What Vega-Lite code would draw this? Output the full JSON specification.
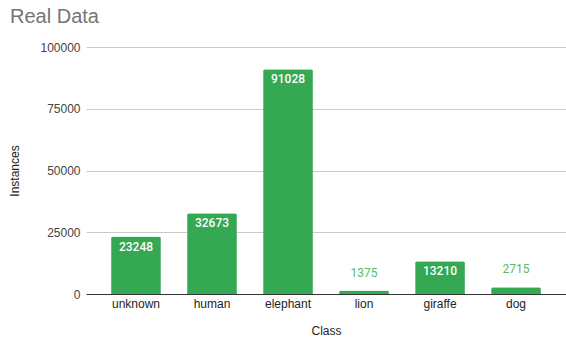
{
  "$schema": "https://vega.github.io/schema/vega-lite/v6.json",
  "autosize": "none",
  "width": 480,
  "height": 247,
  "padding": {"left": 86, "top": 47, "right": 0, "bottom": 48},
  "background": "white",
  "title": {
    "text": "Real Data",
    "anchor": "start",
    "frame": "group",
    "dx": -76,
    "offset": 14,
    "fontSize": 20,
    "font": "Liberation Sans",
    "fontWeight": "normal",
    "color": "#757575"
  },
  "config": {
    "view": {"stroke": null},
    "font": "Roboto"
  },
  "data": {
    "values": [
      {"Class": "unknown", "Instances": 23248},
      {"Class": "human", "Instances": 32673},
      {"Class": "elephant", "Instances": 91028},
      {"Class": "lion", "Instances": 1375},
      {"Class": "giraffe", "Instances": 13210},
      {"Class": "dog", "Instances": 2715}
    ]
  },
  "encoding": {
    "x": {
      "field": "Class",
      "type": "nominal",
      "sort": null,
      "scale": {"paddingInner": 0.345, "paddingOuter": 0.33},
      "axis": {
        "title": "Class",
        "titleFont": "Liberation Sans",
        "titleFontSize": 12,
        "titleFontWeight": "normal",
        "titleColor": "#222222",
        "titlePadding": 16,
        "labelAngle": 0,
        "labelFont": "Liberation Sans",
        "labelFontSize": 12,
        "labelColor": "#222222",
        "labelPadding": 4,
        "ticks": false,
        "domainColor": "#333333",
        "domainWidth": 1
      }
    },
    "y": {
      "field": "Instances",
      "type": "quantitative",
      "scale": {"domain": [0, 100000], "nice": false},
      "axis": {
        "title": "Instances",
        "titleFont": "Liberation Sans",
        "titleFontSize": 12,
        "titleFontWeight": "normal",
        "titleColor": "#222222",
        "titlePadding": 18,
        "values": [0, 25000, 50000, 75000, 100000],
        "format": "d",
        "labelFont": "Liberation Sans",
        "labelFontSize": 12,
        "labelColor": "#444444",
        "labelPadding": 6,
        "ticks": false,
        "domain": false,
        "gridColor": "#cccccc"
      }
    }
  },
  "layer": [
    {
      "mark": {"type": "bar", "color": "#34a853", "cornerRadiusTopLeft": 2, "cornerRadiusTopRight": 2}
    },
    {
      "transform": [{"filter": "datum.Instances >= 5000"}],
      "mark": {"type": "text", "baseline": "middle", "dy": 10, "color": "white", "fontSize": 12, "fontWeight": 500, "font": "Roboto"},
      "encoding": {"text": {"field": "Instances", "type": "quantitative", "format": "d"}}
    },
    {
      "transform": [{"filter": "datum.Instances < 5000"}],
      "mark": {"type": "text", "baseline": "middle", "dy": -18, "color": "#57bb6c", "fontSize": 12, "fontWeight": "normal", "font": "Roboto"},
      "encoding": {"text": {"field": "Instances", "type": "quantitative", "format": "d"}}
    }
  ]
}
